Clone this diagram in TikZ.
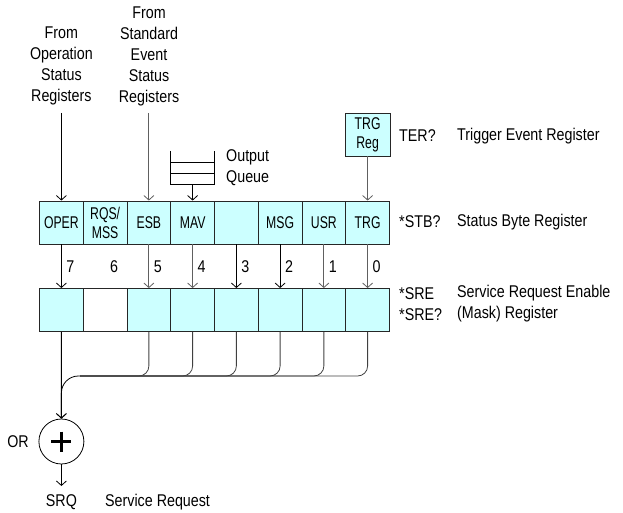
\documentclass[tikz,border=0pt]{standalone}
\usepackage{fontspec}
\setmainfont{Liberation Sans}[FakeStretch=0.84]
\newfontfamily\cellfont{Liberation Sans}[FakeStretch=0.72]
\usetikzlibrary{arrows.meta,calc}
\definecolor{regcyan}{HTML}{CCFFFF}
\definecolor{linegray}{HTML}{606060}
\begin{document}
\begin{tikzpicture}[x=1pt,y=-1pt,
  every node/.style={font=\fontsize{17}{21}\selectfont, inner sep=0pt},
  cell/.style={draw=black!85, line width=0.9pt, fill=regcyan, minimum width=43.75pt, minimum height=43pt, align=center, font=\cellfont\fontsize{17}{19}\selectfont},
  wcell/.style={cell, fill=white},
  arr/.style={-{Straight Barb[length=4.5pt,width=10pt]}, line width=0.8pt, draw=linegray},
  barr/.style={arr, draw=black},
  wire/.style={line width=0.8pt, draw=linegray},
  lbl/.style={anchor=west},
  bitlbl/.style={anchor=center}
]
\useasboundingbox (0,0) rectangle (623,513);

% source texts
\node[align=center] (fromop) at (61.4,65.5) {From\\Operation\\Status\\Registers};
\node[align=center] (fromstd) at (149,56) {From\\Standard\\Event\\Status\\Registers};
\coordinate (opsrc) at (61.375,113);
\coordinate (stdsrc) at (148.875,113);

% output queue
\draw[line width=0.8pt] (170,151) -- (170,184) -- (214,184) -- (214,151);
\draw[line width=0.8pt] (170,162) -- (214,162);
\draw[line width=0.8pt] (170,173) -- (214,173);
\coordinate (queue) at (192.625,184);
\node[lbl] (outq1) at (226,157) {Output};
\node[lbl] (outq2) at (226,178) {Queue};

% TRG Reg
\node[cell, minimum width=45pt] (trgreg) at (367.625,134.5) {TRG\\Reg};
\node[lbl] (ter) at (399,136) {TER?};
\node[lbl] (terdesc) at (457,136) {Trigger Event Register};

% status byte register
\node[cell] (t7) at (61.375,222.5) {OPER};
\node[cell] (t6) at (105.125,222.5) {RQS/\\MSS};
\node[cell] (t5) at (148.875,222.5) {ESB};
\node[cell] (t4) at (192.625,222.5) {MAV};
\node[cell] (t3) at (236.375,222.5) {};
\node[cell] (t2) at (280.125,222.5) {MSG};
\node[cell] (t1) at (323.875,222.5) {USR};
\node[cell] (t0) at (367.625,222.5) {TRG};
\node[lbl] (stb) at (399,222) {*STB?};
\node[lbl] (stbdesc) at (457,222) {Status Byte Register};

% enable register
\node[cell] (b7) at (61.375,310) {};
\node[wcell] (b6) at (105.125,310) {};
\node[cell] (b5) at (148.875,310) {};
\node[cell] (b4) at (192.625,310) {};
\node[cell] (b3) at (236.375,310) {};
\node[cell] (b2) at (280.125,310) {};
\node[cell] (b1) at (323.875,310) {};
\node[cell] (b0) at (367.625,310) {};
\node[lbl, align=left] (sre) at (399,304) {*SRE\\*SRE?};
\node[lbl, align=left] (sredesc) at (457,304) {Service Request Enable\\(Mask) Register};

% bit labels
\node[bitlbl] (l7) at (70.4,267) {7};
\node[bitlbl] (l6) at (114.1,267) {6};
\node[bitlbl] (l5) at (157.9,267) {5};
\node[bitlbl] (l4) at (201.6,267) {4};
\node[bitlbl] (l3) at (245.4,267) {3};
\node[bitlbl] (l2) at (289.1,267) {2};
\node[bitlbl] (l1) at (332.9,267) {1};
\node[bitlbl] (l0) at (376.6,267) {0};

% arrows into status byte
\draw[barr] (opsrc) -- (t7.north);
\draw[arr] (stdsrc) -- (t5.north);
\draw[barr] (queue) -- (t4.north);
\draw[arr] (trgreg.south) -- (t0.north);

% arrows between registers
\draw[barr] (t7.south) -- (b7.north);
\draw[arr] (t5.south) -- (b5.north);
\draw[arr] (t4.south) -- (b4.north);
\draw[barr] (t3.south) -- (b3.north);
\draw[barr] (t2.south) -- (b2.north);
\draw[arr] (t1.south) -- (b1.north);
\draw[arr] (t0.south) -- (b0.north);

% OR gate
\node[draw, circle, line width=0.8pt, minimum size=45pt] (or) at (61.4,441.5) {};
\draw[line width=2.4pt] ($(or.center)+(-10,0)$) -- ($(or.center)+(10,0)$);
\draw[line width=2.4pt] ($(or.center)+(0,-10)$) -- ($(or.center)+(0,10)$);
\node (orlbl) at (18,442) {OR};

% summing bus
\coordinate (busend) at (80,376);
\coordinate (corner) at (61.375,376);
\foreach \b in {5,4,3,2,1,0}{
  \draw[wire, draw=black!75, rounded corners=10pt] (b\b.south) |- (busend);
}
\draw[barr, rounded corners=17pt] (busend) -- (corner) -- (or.north);
\draw[barr] (b7.south) -- (or.north);

% output
\coordinate (srqend) at (61.4,486);
\draw[barr] (or.south) -- (srqend);
\node (srq) at (61.4,502) {SRQ};
\node[lbl] (srqdesc) at (105,502) {Service Request};
\end{tikzpicture}
\end{document}
